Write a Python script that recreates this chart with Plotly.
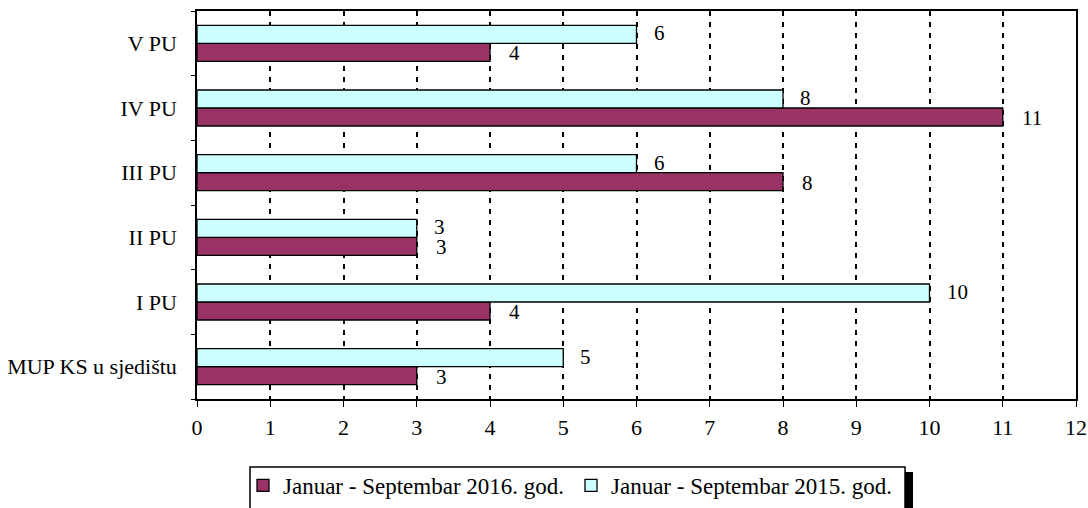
import plotly.graph_objects as go

categories = ["MUP KS u sjedištu", "I PU", "II PU", "III PU", "IV PU", "V PU"]
values_2016 = [3, 4, 3, 8, 11, 4]
values_2015 = [5, 10, 3, 6, 8, 6]
name_2016 = "Januar - Septembar 2016. god."
name_2015 = "Januar - Septembar 2015. god."
x_ticks = list(range(0, 13))

FONT = "Liberation Serif"
W, H = 1088, 508
ML, MR, MT, MB = 197, 12, 11, 109
PW, PH = W - ML - MR, H - MT - MB


def px_x(px):
    return (px - ML) / PW


def px_y(py):
    return (H - MB - py) / PH


fig = go.Figure()
fig.add_trace(go.Bar(
    y=categories, x=values_2016, name=name_2016, orientation="h",
    marker=dict(color="#993366", line=dict(color="black", width=1.3)),
))
fig.add_trace(go.Bar(
    y=categories, x=values_2015, name=name_2015, orientation="h",
    marker=dict(color="#CCFFFF", line=dict(color="black", width=1.3)),
))

annotations = []
for cat, v in zip(categories, values_2016):
    annotations.append(dict(x=v, y=cat, text=str(v), showarrow=False,
                            xanchor="left", xshift=18, yshift=-10, borderpad=0,
                            font=dict(family=FONT, size=21, color="black")))
for cat, v in zip(categories, values_2015):
    annotations.append(dict(x=v, y=cat, text=str(v), showarrow=False,
                            xanchor="left", xshift=16, yshift=10, borderpad=0,
                            font=dict(family=FONT, size=21, color="black")))

# legend frame and its drop shadow
shapes = [
    dict(type="rect", xref="paper", yref="paper",
         x0=px_x(255), x1=px_x(913), y0=px_y(520), y1=px_y(472),
         fillcolor="black", line=dict(width=0), layer="above"),
    dict(type="rect", xref="paper", yref="paper",
         x0=px_x(250), x1=px_x(905), y0=px_y(516), y1=px_y(467),
         fillcolor="white", line=dict(color="black", width=1.5), layer="above"),
]

fig.update_layout(
    width=W, height=H,
    margin=dict(l=ML, r=MR, t=MT, b=MB, autoexpand=False),
    paper_bgcolor="white", plot_bgcolor="white",
    barmode="group", bargap=0.444, bargroupgap=0,
    font=dict(family=FONT, size=22, color="black"),
    showlegend=True,
    legend=dict(orientation="h", x=px_x(243), xanchor="left", y=px_y(464), yanchor="top",
                borderwidth=0, bgcolor="rgba(0,0,0,0)",
                font=dict(family=FONT, size=23, color="black"),
                itemwidth=30, entrywidth=283, tracegroupgap=0),
    annotations=annotations,
    shapes=shapes,
)
fig.update_xaxes(
    range=[0, 12], tickvals=x_ticks, showgrid=True, gridcolor="black",
    gridwidth=2, griddash="5px,6px", showline=True, linecolor="black", linewidth=1.5,
    mirror=True, ticks="outside", ticklen=6, tickcolor="black", zeroline=False,
    tickfont=dict(family=FONT, size=22), automargin=False, ticklabelstandoff=2,
)
fig.update_yaxes(
    showline=True, linecolor="black", linewidth=1.5, mirror=True,
    ticks="outside", tickson="boundaries", ticklen=4, tickcolor="black",
    showgrid=False, tickfont=dict(family=FONT, size=22), ticklabelstandoff=14,
    automargin=False,
)

fig.write_html("out.html", config={"displayModeBar": False},
               post_script="document.body.style.margin='0';document.body.style.overflow='hidden';")
